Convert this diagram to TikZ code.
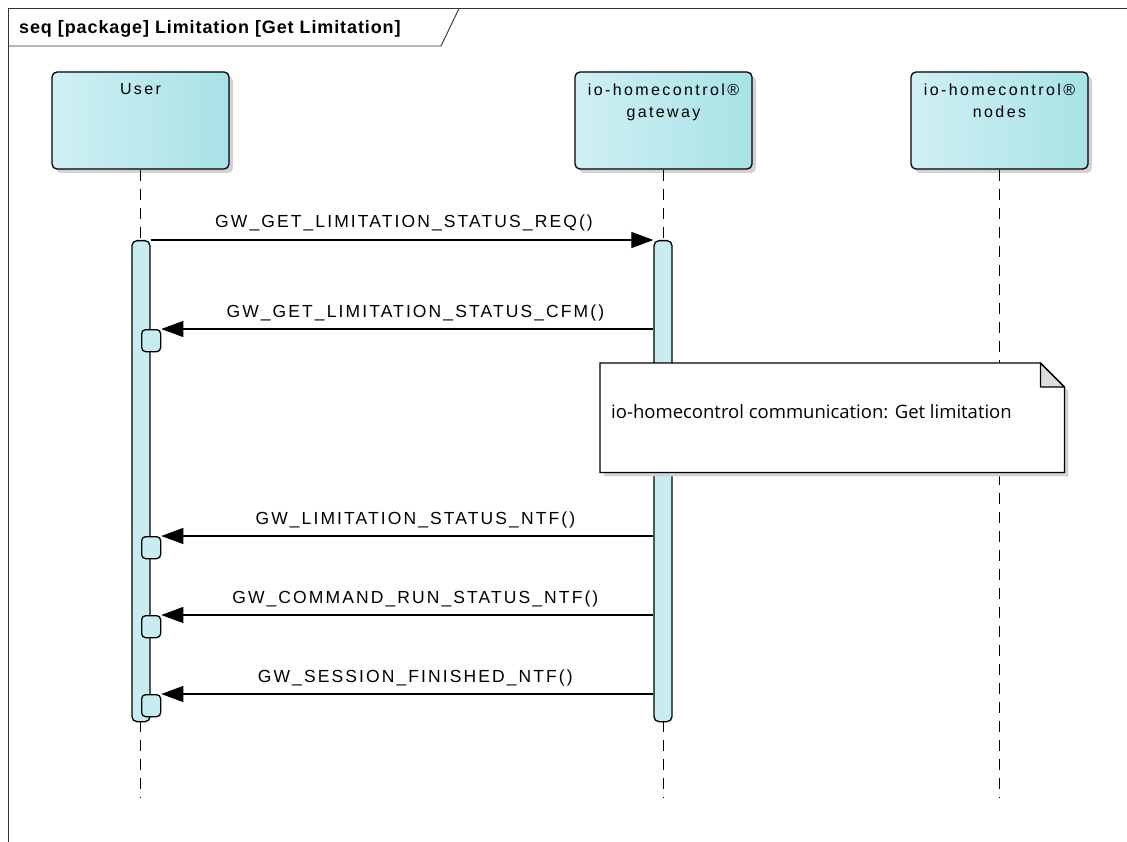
\documentclass[tikz,border=0pt]{standalone}
\usepackage{fontspec}
\setmainfont{Liberation Sans}
\newfontfamily\lblfont[LetterSpace=15]{Liberation Sans}
\newfontfamily\msgfont[LetterSpace=12]{Liberation Sans}
\newfontfamily\ttlfont[LetterSpace=5]{Liberation Sans}
\newfontfamily\notefont{Open Sans}
\usetikzlibrary{arrows.meta,shadows}
\definecolor{boxL}{RGB}{208,240,244}
\definecolor{boxR}{RGB}{168,226,230}
\definecolor{actfill}{RGB}{200,236,240}
\definecolor{shadowgray}{RGB}{210,210,210}
\definecolor{foldgray}{RGB}{220,220,220}
\tikzset{
  frameline/.style={draw=black!80, line width=0.9pt},
  actor/.style={draw=black, line width=1.3pt, rounded corners=5pt, minimum width=177pt, minimum height=97pt, inner sep=0pt, left color=boxL, right color=boxR, drop shadow={shadow xshift=4pt, shadow yshift=-4pt, fill=shadowgray, opacity=1}},
  atext/.style={font=\lblfont\fontsize{16}{22}\selectfont, inner sep=0pt, align=center, anchor=north},
  life/.style={draw=black, line width=1.2pt, dash pattern=on 11pt off 8pt},
  actbar/.style={draw=black, line width=1.3pt, fill=actfill, rounded corners=5pt, minimum width=18pt, inner sep=0pt, anchor=north},
  sbox/.style={draw=black, line width=1.3pt, fill=actfill, rounded corners=4pt, minimum width=19pt, minimum height=22pt, inner sep=0pt, anchor=north west},
  msg/.style={draw=black, line width=1.2pt, -{Triangle[length=22pt, width=16pt]}},
  lbl/.style={font=\msgfont\fontsize{17.5}{20}\selectfont, inner sep=0pt, anchor=base, yshift=12pt},
  rlbl/.style={lbl, xshift=8pt},
  notetxt/.style={font=\notefont\fontsize{18.5}{22}\selectfont, inner sep=0pt, anchor=west}
}
\begin{document}
\begin{tikzpicture}[x=1pt,y=-1pt]
\useasboundingbox (0,0) rectangle (1127,842);
\fill[white] (0,0) rectangle (1127,842);
% frame
\draw[frameline] (8.5,842) -- (8.5,8.5) -- (1127,8.5);
\draw[frameline] (8.5,46) -- (441,46) -- (459,8.5);
\node[font=\ttlfont\bfseries\fontsize{18}{20}\selectfont, inner sep=0pt, anchor=base west] (title) at (19,33.5) {seq [package] Limitation [Get Limitation]};
% actors
\node[actor] (user) at (140.5,120.5) {};
\node[actor] (gw) at (663.5,120.5) {};
\node[actor] (nodes) at (999.5,120.5) {};
\node[atext] (usertxt) at ([yshift=-12pt]user.north) {User};
\node[atext] (gwtxt) at ([yshift=-12pt]gw.north) {io-homecontrol®\\gateway};
\node[atext] (nodestxt) at ([yshift=-12pt]nodes.north) {io-homecontrol®\\nodes};
% lifelines
\coordinate (uend) at (user.south |- 0,797);
\coordinate (gend) at (gw.south |- 0,797);
\coordinate (nend) at (nodes.south |- 0,797);
\draw[life] (user.south) -- (uend);
\draw[life] (gw.south) -- (gend);
\draw[life] (nodes.south) -- (nend);
% activations
\node[actbar, minimum height=481pt] (uact) at (141,240) {};
\node[actbar, minimum height=481pt] (gact) at (663,240) {};
% small execution boxes
\node[sbox] (cfm) at (141,329) {};
\node[sbox] (ntf) at (141,536) {};
\node[sbox] (cmd) at (141,615) {};
\node[sbox] (ses) at (141,694) {};
% messages
\draw[msg] (uact.north east) -- node[lbl, xshift=2pt] {GW\_GET\_LIMITATION\_STATUS\_REQ()} (gact.north west);
\draw[msg] (gact.west |- cfm.north) -- node[rlbl] {GW\_GET\_LIMITATION\_STATUS\_CFM()} (cfm.north east);
\draw[msg] (gact.west |- ntf.north) -- node[rlbl] {GW\_LIMITATION\_STATUS\_NTF()} (ntf.north east);
\draw[msg] (gact.west |- cmd.north) -- node[rlbl] {GW\_COMMAND\_RUN\_STATUS\_NTF()} (cmd.north east);
\draw[msg] (gact.west |- ses.north) -- node[rlbl] {GW\_SESSION\_FINISHED\_NTF()} (ses.north east);
% note
\node[minimum width=464pt, minimum height=109pt, inner sep=0pt, anchor=north west] (note) at (600,363) {};
\fill[shadowgray] ([xshift=4pt,yshift=-4pt]note.north west) -- ([xshift=-20pt,yshift=-4pt]note.north east) -- ([xshift=4pt,yshift=-28pt]note.north east) -- ([xshift=4pt,yshift=-4pt]note.south east) -- ([xshift=4pt,yshift=-4pt]note.south west) -- cycle;
\filldraw[fill=white, draw=black, line width=1.3pt] (note.north west) -- ([xshift=-24pt]note.north east) -- ([yshift=-24pt]note.north east) -- (note.south east) -- (note.south west) -- cycle;
\filldraw[fill=foldgray, draw=black, line width=1.3pt, line join=round] ([xshift=-24pt]note.north east) -- ([xshift=-24pt,yshift=-24pt]note.north east) -- ([yshift=-24pt]note.north east) -- cycle;
\node[notetxt] (ntext) at ([xshift=11pt,yshift=6pt]note.west) {io-homecontrol communication: Get limitation};
\end{tikzpicture}
\end{document}
